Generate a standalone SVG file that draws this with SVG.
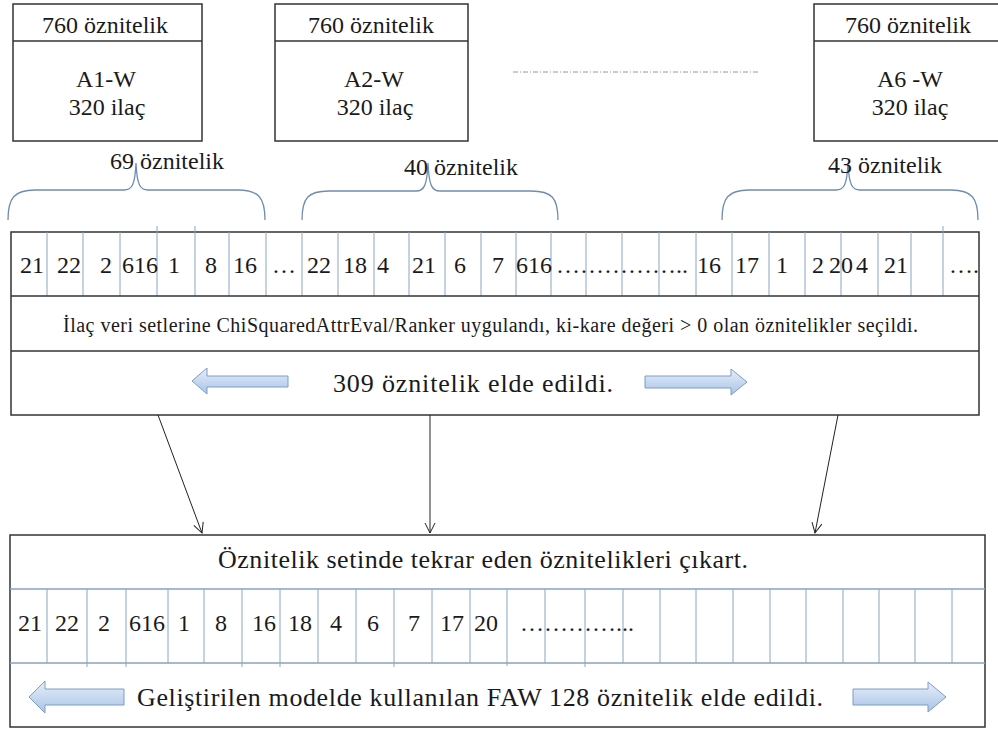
<svg xmlns="http://www.w3.org/2000/svg" width="998" height="729" viewBox="0 0 998 729" font-family="'Liberation Serif', 'DejaVu Serif', 'Times New Roman', serif">
<style>
.t{font-family:"Liberation Serif","DejaVu Serif","Times New Roman",serif;fill:#1a1a1a}
.f24{font-size:24px}
.f20{font-size:20px}
.f26{font-size:26px}
.mid{text-anchor:middle}
.box{fill:#fff;stroke:#333;stroke-width:1.5}
.div{stroke:#333;stroke-width:1.3}
.cell{stroke:#8aa6c1;stroke-width:1}
.brace{fill:none;stroke:#6f8db0;stroke-width:1.3}
.conn{stroke:#222;stroke-width:1;fill:none}
.barrow{fill:url(#bg);stroke:#7d9cc6;stroke-width:1}
</style>
<defs>
<linearGradient id="bg" x1="0" y1="0" x2="0" y2="1">
<stop offset="0" stop-color="#e6effa"/>
<stop offset="1" stop-color="#a9c3e6"/>
</linearGradient>
<marker id="ah" viewBox="0 0 12 12" refX="11" refY="6" markerWidth="12" markerHeight="12" markerUnits="userSpaceOnUse" orient="auto">
<path d="M1,1 L11,6 L1,11" fill="none" stroke="#222" stroke-width="1"/>
</marker>
</defs>
<rect width="998" height="729" fill="#fff"/>

<g id="box-a1">
<rect class="box" x="13" y="4" width="189" height="137"/>
<line class="div" x1="13" y1="41" x2="202" y2="41"/>
<text class="t f24 mid" x="105" y="33">760 öznitelik</text>
<text class="t f24 mid" x="106" y="87">A1-W</text>
<text class="t f24 mid" x="107" y="115">320 ilaç</text>
</g>
<g id="box-a2">
<rect class="box" x="275" y="4" width="193" height="137"/>
<line class="div" x1="275" y1="41" x2="468" y2="41"/>
<text class="t f24 mid" x="371" y="33">760 öznitelik</text>
<text class="t f24 mid" x="374" y="87">A2-W</text>
<text class="t f24 mid" x="375" y="115">320 ilaç</text>
</g>
<g id="dots">
<line x1="513" y1="72" x2="758" y2="72" stroke="#8a9ab0" stroke-width="1" stroke-dasharray="5,2,1,2"/>
</g>
<g id="box-a6">
<rect class="box" x="814" y="4" width="192" height="137"/>
<line class="div" x1="814" y1="41" x2="1006" y2="41"/>
<text class="t f24 mid" x="908" y="33">760 öznitelik</text>
<text class="t f24 mid" x="910" y="87">A6 -W</text>
<text class="t f24 mid" x="910" y="115">320 ilaç</text>
</g>

<g id="braces">
<path class="brace" d="M8 220 C8 198 14 190 35 190 L124 190 C132 190 135 185 136 163 C137 185 140 190 148 190 L238 190 C259 190 265 198 265 220"/>
<text class="t f24" x="110" y="169">69 öznitelik</text>
<path class="brace" d="M302 220 C302 198 308 191 329 191 L416 191 C424 191 427 186 428 163 C429 186 432 191 440 191 L531 191 C552 191 558 198 558 220"/>
<text class="t f24" x="404" y="175">40 öznitelik</text>
<path class="brace" d="M722 220 C722 198 728 190 749 190 L836 190 C844 190 847 185 848 163 C849 185 852 190 860 190 L951 190 C972 190 978 198 978 220"/>
<text class="t f24" x="828" y="173">43 öznitelik</text>
</g>

<g id="feature-box">
<rect class="box" x="11" y="232" width="968" height="183"/>
<g>
<line class="cell" x1="47" y1="232" x2="47" y2="296"/>
<line class="cell" x1="83" y1="232" x2="83" y2="296"/>
<line class="cell" x1="120" y1="232" x2="120" y2="296"/>
<line class="cell" x1="157" y1="226" x2="157" y2="296"/>
<line class="cell" x1="195" y1="226" x2="195" y2="296"/>
<line class="cell" x1="229" y1="232" x2="229" y2="296"/>
<line class="cell" x1="266" y1="232" x2="266" y2="296"/>
<line class="cell" x1="302" y1="232" x2="302" y2="296"/>
<line class="cell" x1="338" y1="232" x2="338" y2="296"/>
<line class="cell" x1="374" y1="232" x2="374" y2="296"/>
<line class="cell" x1="409" y1="232" x2="409" y2="296"/>
<line class="cell" x1="445" y1="232" x2="445" y2="296"/>
<line class="cell" x1="481" y1="232" x2="481" y2="296"/>
<line class="cell" x1="516" y1="232" x2="516" y2="296"/>
<line class="cell" x1="551" y1="232" x2="551" y2="296"/>
<line class="cell" x1="586" y1="232" x2="586" y2="296"/>
<line class="cell" x1="622" y1="232" x2="622" y2="296"/>
<line class="cell" x1="659" y1="232" x2="659" y2="296"/>
<line class="cell" x1="696" y1="232" x2="696" y2="296"/>
<line class="cell" x1="732" y1="232" x2="732" y2="296"/>
<line class="cell" x1="769" y1="232" x2="769" y2="296"/>
<line class="cell" x1="805" y1="232" x2="805" y2="296"/>
<line class="cell" x1="841" y1="232" x2="841" y2="296"/>
<line class="cell" x1="878" y1="232" x2="878" y2="296"/>
<line class="cell" x1="911" y1="232" x2="911" y2="296"/>
<line class="cell" x1="943" y1="226" x2="943" y2="296"/>
</g>
<line class="div" x1="11" y1="296" x2="979" y2="296"/>
<line class="div" x1="11" y1="351" x2="979" y2="351"/>
<g class="t f24">
<text x="20" y="273">21</text>
<text x="57" y="273">22</text>
<text x="100" y="273">2</text>
<text x="122" y="273">616</text>
<text x="168" y="273">1</text>
<text x="205" y="273">8</text>
<text x="233" y="273">16</text>
<text x="272" y="273">…</text>
<text x="307" y="273">22</text>
<text x="343" y="273">18</text>
<text x="377" y="273">4</text>
<text x="412" y="273">21</text>
<text x="454" y="273">6</text>
<text x="492" y="273">7</text>
<text x="516" y="273">616</text>
<text x="556" y="273">……………..</text>
<text x="697" y="273">16</text>
<text x="735" y="273">17</text>
<text x="776" y="273">1</text>
<text x="812" y="273">2</text>
<text x="829" y="273">20</text>
<text x="856" y="273">4</text>
<text x="884" y="273">21</text>
<text x="949" y="273">….</text>
</g>
<text class="t f20" x="63" y="332" textLength="855" lengthAdjust="spacing">İlaç veri setlerine ChiSquaredAttrEval/Ranker uygulandı, ki-kare değeri &gt; 0 olan öznitelikler seçildi.</text>
<path class="barrow" d="M192 381 L207 368 L207 376 L288 376 L288 387 L207 387 L207 394 Z"/>
<text class="t f26" x="333" y="392" textLength="280" lengthAdjust="spacing">309 öznitelik elde edildi.</text>
<path class="barrow" d="M747 382 L731 369 L731 376 L645 376 L645 388 L731 388 L731 395 Z"/>
</g>

<g id="connectors">
<line class="conn" x1="158" y1="415" x2="202" y2="533" marker-end="url(#ah)"/>
<line class="conn" x1="430" y1="415" x2="430" y2="533" marker-end="url(#ah)"/>
<line class="conn" x1="838" y1="415" x2="815" y2="533" marker-end="url(#ah)"/>
</g>

<g id="result-box">
<rect class="box" x="10" y="535" width="975" height="192"/>
<text class="t f26" x="218" y="568" textLength="530" lengthAdjust="spacing">Öznitelik setinde tekrar eden öznitelikleri çıkart.</text>
<g>
<line class="cell" x1="47" y1="589" x2="47" y2="663"/>
<line class="cell" x1="87" y1="589" x2="87" y2="667"/>
<line class="cell" x1="126" y1="589" x2="126" y2="667"/>
<line class="cell" x1="168" y1="589" x2="168" y2="663"/>
<line class="cell" x1="204" y1="589" x2="204" y2="663"/>
<line class="cell" x1="242" y1="589" x2="242" y2="667"/>
<line class="cell" x1="280" y1="589" x2="280" y2="667"/>
<line class="cell" x1="318" y1="589" x2="318" y2="663"/>
<line class="cell" x1="356" y1="589" x2="356" y2="663"/>
<line class="cell" x1="394" y1="589" x2="394" y2="667"/>
<line class="cell" x1="432" y1="589" x2="432" y2="663"/>
<line class="cell" x1="470" y1="589" x2="470" y2="663"/>
<line class="cell" x1="507" y1="589" x2="507" y2="666"/>
<line class="cell" x1="545" y1="589" x2="545" y2="663"/>
<line class="cell" x1="585" y1="589" x2="585" y2="667"/>
<line class="cell" x1="623" y1="589" x2="623" y2="663"/>
<line class="cell" x1="660" y1="589" x2="660" y2="663"/>
<line class="cell" x1="696" y1="589" x2="696" y2="663"/>
<line class="cell" x1="733" y1="589" x2="733" y2="663"/>
<line class="cell" x1="770" y1="589" x2="770" y2="663"/>
<line class="cell" x1="806" y1="589" x2="806" y2="663"/>
<line class="cell" x1="843" y1="589" x2="843" y2="663"/>
<line class="cell" x1="879" y1="589" x2="879" y2="663"/>
<line class="cell" x1="915" y1="589" x2="915" y2="663"/>
<line class="cell" x1="952" y1="589" x2="952" y2="663"/>
</g>
<line x1="10" y1="589" x2="985" y2="589" stroke="#8aa3bd" stroke-width="1.3"/>
<line x1="10" y1="663" x2="985" y2="663" stroke="#8aa3bd" stroke-width="1.3"/>
<g class="t f24">
<text x="18" y="631">21</text>
<text x="55" y="631">22</text>
<text x="98" y="631">2</text>
<text x="129" y="631">616</text>
<text x="178" y="631">1</text>
<text x="215" y="631">8</text>
<text x="252" y="631">16</text>
<text x="288" y="631">18</text>
<text x="330" y="631">4</text>
<text x="367" y="631">6</text>
<text x="408" y="631">7</text>
<text x="440" y="631">17</text>
<text x="474" y="631">20</text>
<text x="520" y="631">…………...</text>
</g>
<path class="barrow" d="M29 697 L45 681 L45 689 L124 689 L124 705 L45 705 L45 713 Z"/>
<text class="t f26" x="137" y="706" textLength="686" lengthAdjust="spacing">Geliştirilen modelde kullanılan FAW 128 öznitelik elde edildi.</text>
<path class="barrow" d="M946 697 L928 682 L928 689 L853 689 L853 705 L928 705 L928 712 Z"/>
</g>
</svg>
